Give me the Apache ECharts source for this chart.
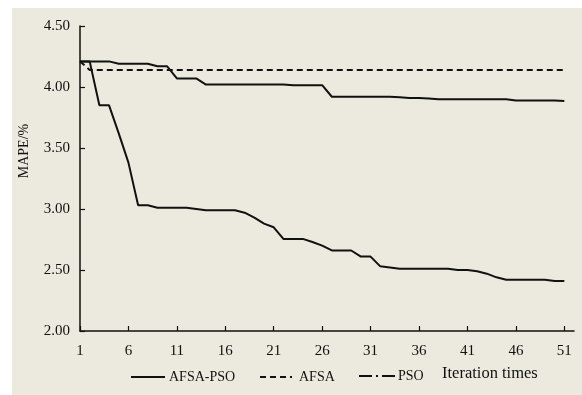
<!DOCTYPE html>
<html>
<head>
<meta charset="utf-8">
<script src="https://cdn.jsdelivr.net/npm/echarts@6/dist/echarts.min.js"></script>
<style>
  html, body { margin: 0; padding: 0; background: #ffffff; }
  #chart { width: 582px; height: 395px; }
</style>
</head>
<body>
<div id="chart"></div>
<script>
// Iteration index (the axis runs one step past the last iteration)
const iterations = Array.from({ length: 52 }, (_, k) => String(k + 1));

// MAPE (%) per iteration, iterations 1..51
const afsaPso = [
  4.21, 4.21, 3.85, 3.85, 3.62, 3.38, 3.03, 3.03, 3.01, 3.01,
  3.01, 3.01, 3.00, 2.99, 2.99, 2.99, 2.99, 2.97, 2.93, 2.88,
  2.85, 2.755, 2.755, 2.755, 2.73, 2.70, 2.66, 2.66, 2.66, 2.61,
  2.61, 2.53, 2.52, 2.51, 2.51, 2.51, 2.51, 2.51, 2.51, 2.50,
  2.50, 2.49, 2.47, 2.44, 2.42, 2.42, 2.42, 2.42, 2.42, 2.41,
  2.41
];
const afsa = [
  4.21, 4.14, 4.14, 4.14, 4.14, 4.14, 4.14, 4.14, 4.14, 4.14,
  4.14, 4.14, 4.14, 4.14, 4.14, 4.14, 4.14, 4.14, 4.14, 4.14,
  4.14, 4.14, 4.14, 4.14, 4.14, 4.14, 4.14, 4.14, 4.14, 4.14,
  4.14, 4.14, 4.14, 4.14, 4.14, 4.14, 4.14, 4.14, 4.14, 4.14,
  4.14, 4.14, 4.14, 4.14, 4.14, 4.14, 4.14, 4.14, 4.14, 4.14,
  4.14
];
const pso = [
  4.21, 4.21, 4.21, 4.21, 4.19, 4.19, 4.19, 4.19, 4.17, 4.17,
  4.07, 4.07, 4.07, 4.02, 4.02, 4.02, 4.02, 4.02, 4.02, 4.02,
  4.02, 4.02, 4.015, 4.015, 4.015, 4.015, 3.92, 3.92, 3.92, 3.92,
  3.92, 3.92, 3.92, 3.915, 3.91, 3.91, 3.905, 3.90, 3.90, 3.90,
  3.90, 3.90, 3.90, 3.90, 3.90, 3.89, 3.89, 3.89, 3.89, 3.89,
  3.885
];

const yTicks = { min: 2.0, max: 4.5, step: 0.5 };
const seriesNames = ['AFSA-PSO', 'AFSA', 'PSO'];

const serif = '"Liberation Serif", "Times New Roman", serif';
const ink = '#111111';

// Legend keys: a short stroked sample followed by the series name
function legendKey(x1, x2, y, dash, label, textX) {
  return [
    {
      type: 'line', z: 5,
      shape: { x1: x1, y1: y, x2: x2, y2: y },
      style: { stroke: ink, lineWidth: 2.2, lineDash: dash }
    },
    {
      type: 'text', x: textX, y: y, z: 5,
      style: { text: label, fill: ink, font: '14px ' + serif, align: 'left', verticalAlign: 'middle' }
    }
  ];
}

const chart = echarts.init(document.getElementById('chart'), null, { renderer: 'canvas' });

chart.setOption({
  backgroundColor: '#ffffff',
  animation: false,
  graphic: [
    {
      type: 'rect', left: 12, top: 8, z: -10,
      shape: { width: 570, height: 387 },
      style: { fill: '#ece9df' }
    },
    {
      type: 'text', x: 24, y: 151, rotation: Math.PI / 2,
      style: {
        text: 'MAPE/%', fill: ink, font: '14px ' + serif,
        align: 'center', verticalAlign: 'middle'
      }
    },
    {
      type: 'text', x: 442, y: 374,
      style: {
        text: 'Iteration times', fill: ink, font: '16.5px ' + serif,
        align: 'left', verticalAlign: 'middle'
      }
    },
    ...legendKey(131, 165, 377, null, seriesNames[0], 169),
    ...legendKey(260, 292, 377, [6, 4], seriesNames[1], 299),
    ...legendKey(359, 397, 376, [13, 4, 2, 4], seriesNames[2], 398)
  ],
  grid: { left: 80, right: 8, top: 26, bottom: 64, containLabel: false },
  xAxis: {
    type: 'category',
    data: iterations,
    boundaryGap: false,
    axisLine: { lineStyle: { color: ink, width: 1.5 } },
    axisTick: { inside: true, length: 5, interval: 4, lineStyle: { color: ink, width: 1.2 } },
    axisLabel: {
      interval: 4, margin: 13,
      fontFamily: serif, fontSize: 15, color: ink
    },
    splitLine: { show: false }
  },
  yAxis: {
    type: 'value',
    min: yTicks.min, max: yTicks.max, interval: yTicks.step,
    axisLine: { show: true, lineStyle: { color: ink, width: 1.5 } },
    axisTick: { show: true, inside: true, length: 5, lineStyle: { color: ink, width: 1.2 } },
    axisLabel: {
      margin: 10, fontFamily: serif, fontSize: 15, color: ink,
      formatter: v => v.toFixed(2)
    },
    splitLine: { show: false }
  },
  series: [
    {
      name: seriesNames[0], type: 'line', data: afsaPso,
      symbol: 'none', lineStyle: { color: ink, width: 2 }
    },
    {
      name: seriesNames[1], type: 'line', data: afsa,
      symbol: 'none', lineStyle: { color: ink, width: 2, type: [6, 4] }
    },
    {
      name: seriesNames[2], type: 'line', data: pso,
      symbol: 'none', lineStyle: { color: ink, width: 2 }
    }
  ]
});
</script>
</body>
</html>
